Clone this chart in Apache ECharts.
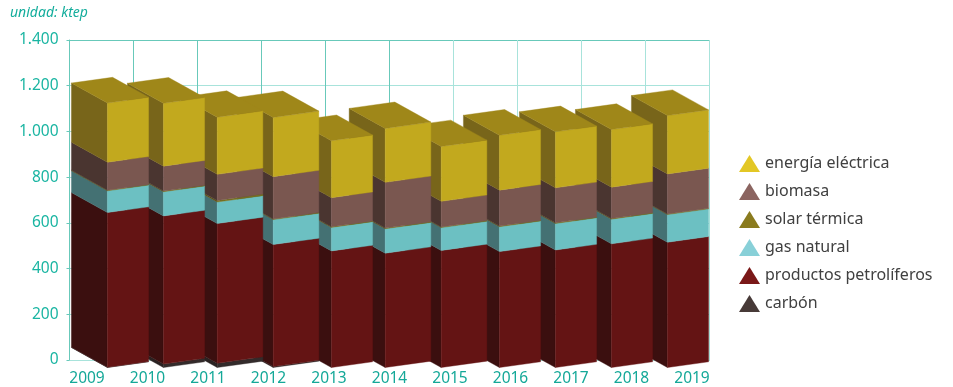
<!DOCTYPE html>
<html><head><meta charset="utf-8">
<style>html,body{margin:0;padding:0;background:#fff}#c{width:953px;height:387px}</style>
<script src="https://cdn.jsdelivr.net/npm/echarts@6/dist/echarts.min.js"></script>
</head><body><div id="c"></div>
<script>
const years = ['2009','2010','2011','2012','2013','2014','2015','2016','2017','2018','2019'];
const yTicks = [0,200,400,600,800,1000,1200,1400];
const carbon   = [1,15,19,4,0,0,0,0,0,0,0];
const petroleo = [677,648,611,534,510,500,512,507,514,541,548];
const gas      = [95,106,94,109,103,107,100,109,116,108,121];
const solar    = [3,3,7,3,3,3,3,3,3,3,3];
const biomasa  = [122,109,114,185,127,200,112,157,153,137,175];
const electrica= [259,275,250,259,249,236,240,240,245,252,255];

const stackOrder = [
  {name:'carbón', values:carbon, legend:'#473a38', front:'#332b2b', side:'#2a2222'},
  {name:'productos petrolíferos', values:petroleo, legend:'#7a1818', front:'#641414', side:'#3b0f0f'},
  {name:'gas natural', values:gas, legend:'#88d0d8', front:'#6cc0c2', side:'#447173'},
  {name:'solar térmica', values:solar, legend:'#8a7b1e', front:'#75701f', side:'#5a5218'},
  {name:'biomasa', values:biomasa, legend:'#8b6460', front:'#7a5750', side:'#4a3530'},
  {name:'energía eléctrica', values:electrica, legend:'#e3c725', front:'#c2a91e', side:'#78651a', top:'#9f8719'}
];
const legendOrder = ['energía eléctrica','biomasa','solar térmica','gas natural','productos petrolíferos','carbón'];

// projection of the pseudo-3D boxes
const DX=-36, DY=-20, SLOPE=0.139, FLOOR=7.5, BAR=0.735, WIDE=0.815;
const wideBars=['2011','2012','2014','2015'];
const sharp='#68c9ba', pale='#a8e3db';

function makeRender(s){
  return function(params, api){
    const i=api.value(0), lo=api.value(1), hi=api.value(2);
    if(hi<=lo) return null;
    const a=api.coord([i,lo]), b=api.coord([i,hi]);
    const w=api.size([1,0])[0]*(wideBars.includes(years[i])?WIDE:BAR), lx=a[0]-w/2, rx=lx+w, rise=w*SLOPE;
    const y0=a[1]+FLOOR, y1=b[1]+FLOOR;
    const base=(years.length-i)*10;
    const poly=(pts,fill,z)=>({type:'polygon',z2:base+z,shape:{points:pts},
      style:{fill:fill,stroke:fill,lineWidth:0.4},silent:true});
    const kids=[
      poly([[lx+DX,y0+DY],[lx,y0],[lx,y1],[lx+DX,y1+DY]],s.side,1),
      poly([[lx,y0],[rx,y0-rise],[rx,y1-rise],[lx,y1]],s.front,2)
    ];
    if(s.top) kids.push(poly([[lx,y1],[rx,y1-rise],[rx+DX,y1-rise+DY],[lx+DX,y1+DY]],s.top,3));
    return {type:'group',children:kids};
  };
}

const running=years.map(()=>0);
const series=stackOrder.map(s=>{
  const data=s.values.map((v,i)=>{const lo=running[i];running[i]+=v;return [i,lo,running[i]];});
  return {type:'custom',name:s.name,coordinateSystem:'cartesian2d',xAxisIndex:1,yAxisIndex:1,
    encode:{x:0,y:2},data,renderItem:makeRender(s),itemStyle:{color:s.legend},z:3,clip:false};
});

const font='"Noto Sans"';
const option={
  animation:false,
  title:{text:'unidad: ktep',left:10,top:6,padding:0,
    textStyle:{fontFamily:font,fontStyle:'italic',fontWeight:'normal',fontSize:14,color:'#13ad9c'}},
  legend:{orient:'vertical',left:739,top:155,icon:'triangle',itemWidth:21,itemHeight:17,itemGap:11,
    data:legendOrder,selectedMode:false,padding:0,
    textStyle:{fontFamily:font,fontSize:16,color:'#404040'}},
  grid:[
    {left:69.5,top:40,width:640,height:320},
    {left:100,top:40,width:616,height:320},
    {left:87,top:40,width:605,height:320}
  ],
  xAxis:[
    {type:'value',gridIndex:0,min:0,max:10,interval:1,axisLabel:{show:false},axisTick:{show:false},
      axisLine:{show:true,lineStyle:{color:pale}},
      splitLine:{show:true,lineStyle:{width:1,color:[sharp,sharp,sharp,sharp,sharp,sharp,pale,pale,pale,pale,pale]}}},
    {type:'category',gridIndex:1,data:years,show:false},
    {type:'category',gridIndex:2,data:years,boundaryGap:false,axisLine:{show:false},axisTick:{show:false},
      axisLabel:{interval:0,margin:13,fontFamily:font,fontSize:15.5,color:'#14a898',hideOverlap:false,showMinLabel:true,showMaxLabel:true}}
  ],
  yAxis:[
    {type:'value',gridIndex:0,min:yTicks[0],max:yTicks[yTicks.length-1],interval:200,
      axisLine:{show:true,lineStyle:{color:sharp}},axisTick:{show:true,length:3,lineStyle:{color:sharp}},
      splitLine:{show:true,lineStyle:{width:1,color:[pale,pale,pale,pale,pale,pale,pale,sharp]}},
      axisLabel:{margin:11,fontFamily:font,fontSize:15.5,color:'#1ab5a2',
        formatter:v=>v>=1000?String(v).replace(/(\d)(\d{3})$/,'$1.$2'):String(v)}},
    {type:'value',gridIndex:1,min:0,max:1400,show:false},
    {type:'value',gridIndex:2,min:0,max:1400,show:false}
  ],
  series:series.concat([{type:'custom',xAxisIndex:2,yAxisIndex:2,data:[],renderItem:()=>null,silent:true}])
};
const chart=echarts.init(document.getElementById('c'),null,{renderer:'canvas'});
chart.setOption(option);
</script></body></html>
